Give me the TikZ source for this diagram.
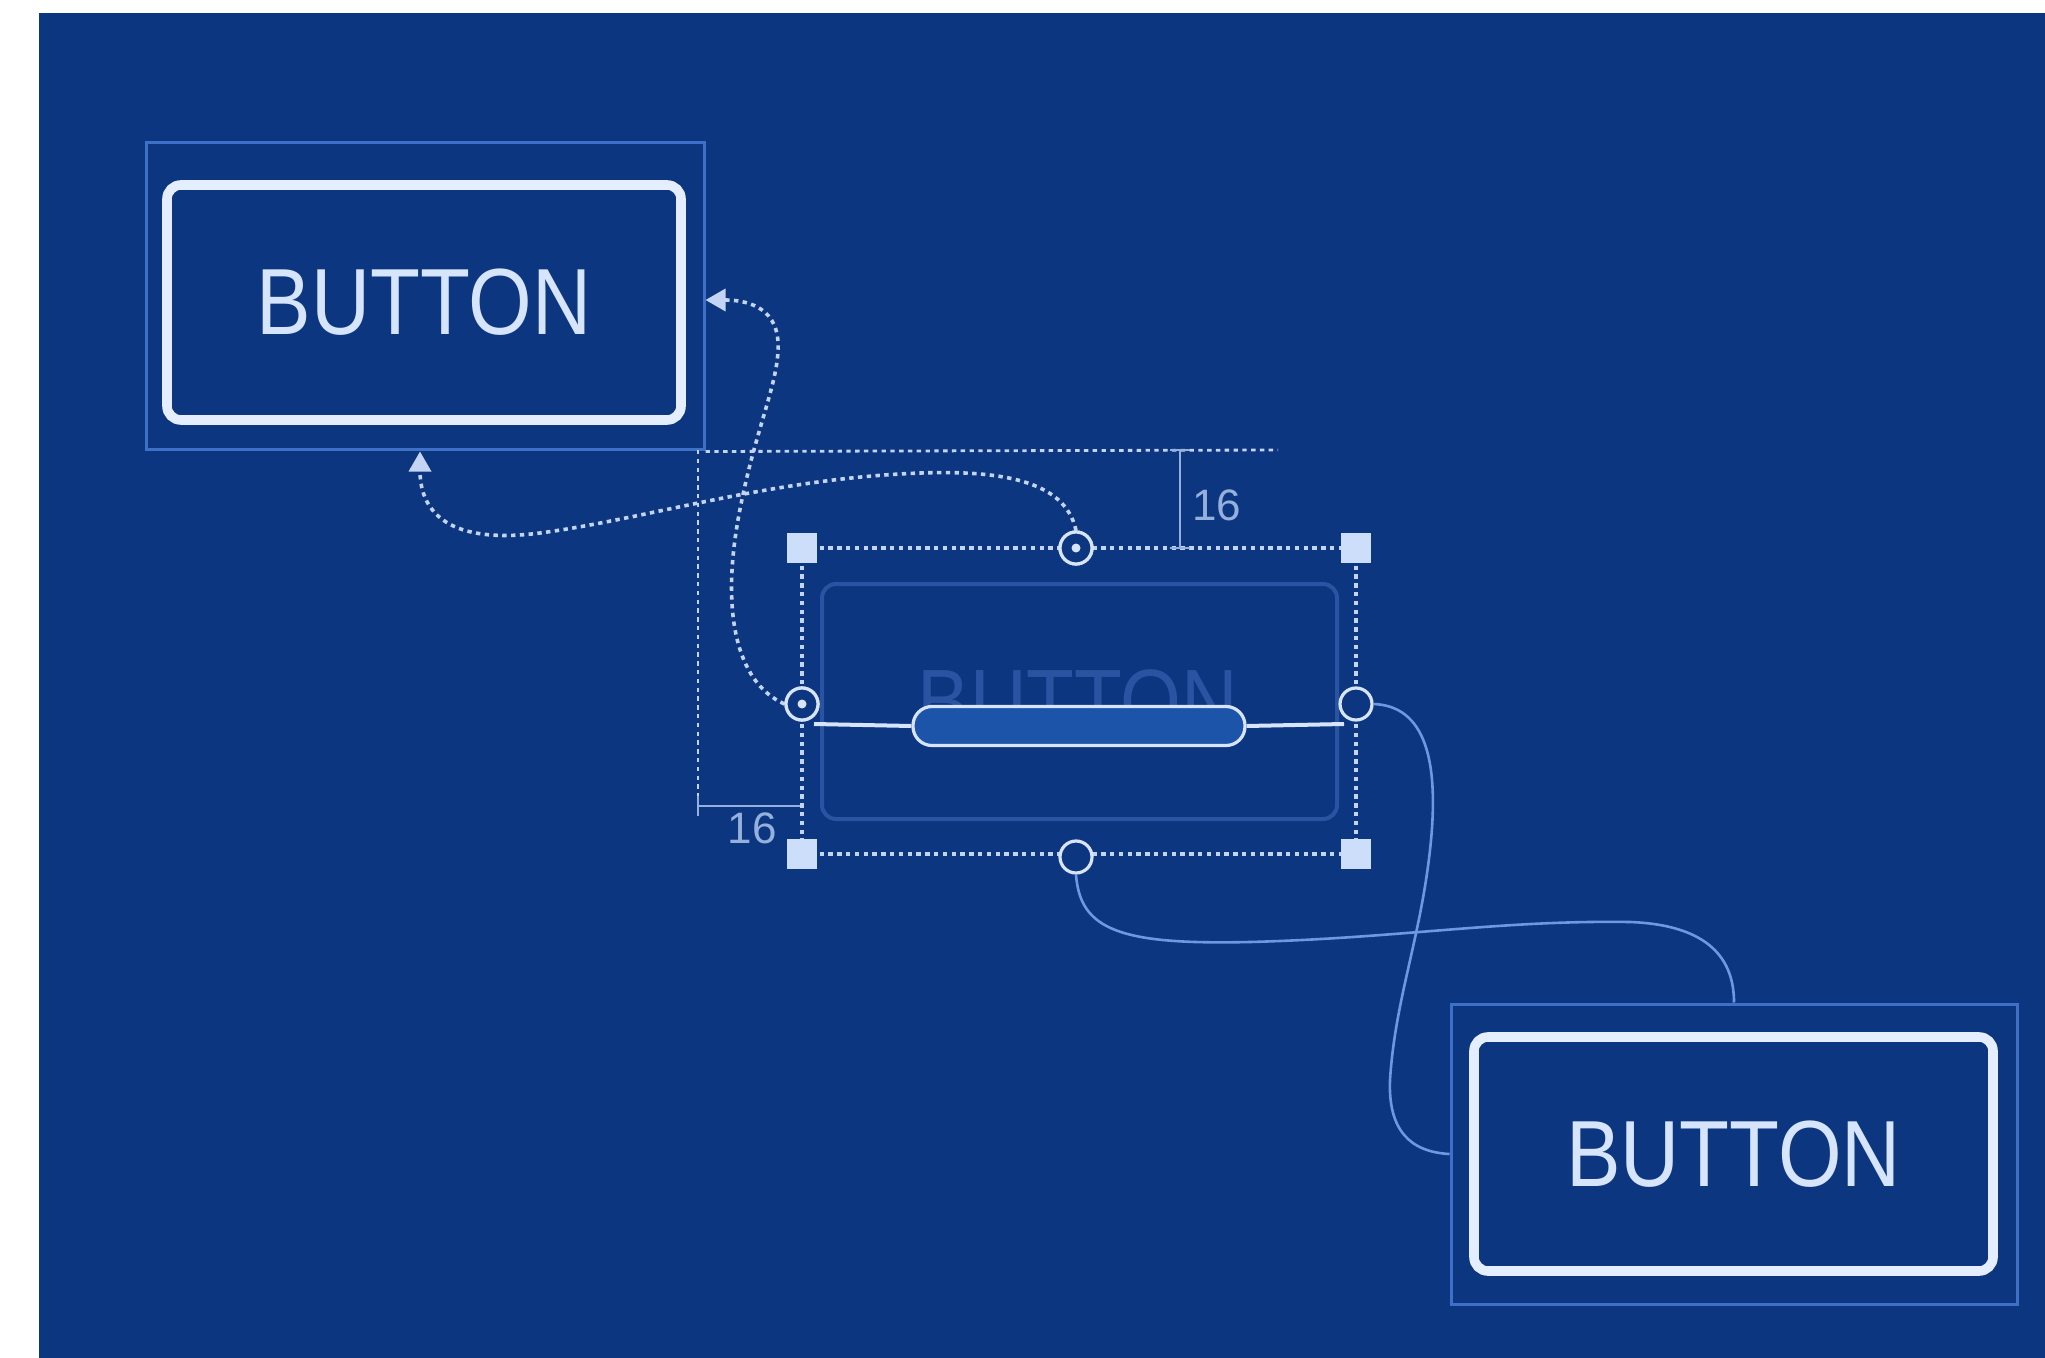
\documentclass[tikz,border=0pt]{standalone}
\usepackage{fontspec}
\setmainfont{Liberation Sans}
\newfontfamily\btnfont[FakeStretch=0.87]{Liberation Sans}
\usetikzlibrary{arrows.meta}
\definecolor{bg}{RGB}{12,54,128}
\definecolor{outerline}{RGB}{62,112,200}
\definecolor{btnwhite}{RGB}{228,238,255}
\definecolor{btntext}{RGB}{214,228,252}
\definecolor{handlec}{RGB}{205,222,250}
\definecolor{ringc}{RGB}{215,228,252}
\definecolor{guidec}{RGB}{195,212,245}
\definecolor{faintc}{RGB}{42,84,162}
\definecolor{linkc}{RGB}{112,152,226}
\definecolor{dimc}{RGB}{150,176,222}
\definecolor{pillc}{RGB}{28,84,170}
\begin{document}
\begin{tikzpicture}[x=0.5pt,y=-0.5pt,
  outerbox/.style={draw=outerline, line width=1.5pt, inner sep=0pt},
  btnbox/.style={draw=btnwhite, line width=4.8pt, rounded corners=7pt, inner sep=0pt,
     font=\btnfont\fontsize{47}{50}\selectfont, text=btntext},
  faintbox/.style={draw=faintc, line width=2pt, rounded corners=7pt, inner sep=0pt},
  handle/.style={fill=handlec, minimum size=15pt, inner sep=0pt},
  ring/.style={circle, draw=ringc, line width=1.6pt, fill=bg, minimum size=16pt, inner sep=0pt},
  dotc/.style={circle, fill=ringc, minimum size=4.5pt, inner sep=0pt},
  guide/.style={draw=guidec, line width=1.8pt, dash pattern=on 2.2pt off 2.2pt},
  flow/.style={guide, -{Triangle[length=10pt,width=11pt]}},
  link/.style={draw=linkc, line width=1.3pt},
  dimline/.style={draw=dimc, line width=1.2pt},
  dimlabel/.style={text=dimc, font=\fontsize{22}{24}\selectfont, inner sep=1pt},
  pill/.style={draw=ringc, line width=1.6pt, fill=pillc, rounded corners=9.5pt,
     minimum width=166pt, minimum height=19.5pt, inner sep=0pt}
]
\fill[white] (0,0) rectangle (2045,1358);
\fill[bg] (39,13) rectangle (2045,1358);
\useasboundingbox (0,0) rectangle (2045,1358);

% top-left button
\node[outerbox, minimum width=279pt, minimum height=153.5pt] (outA) at (425,296.5) {};
\node[btnbox, minimum width=257pt, minimum height=117.5pt] (btnA) at (424,302.5) {BUTTON};

% bottom-right button
\node[outerbox, minimum width=283pt, minimum height=150pt] (outB) at (1734,1154) {};
\node[btnbox, minimum width=259.5pt, minimum height=117pt] (btnB) at (1733.5,1154) {BUTTON};

% faint middle button
\node[faintbox, minimum width=257.5pt, minimum height=117.5pt] (btnM) at (1079.5,701.5) {};
\node[text=faintc, font=\btnfont\fontsize{45}{50}\selectfont, inner sep=0pt] (txtM) at (1078,702) {BUTTON};

% handle coordinates
\coordinate (pTL) at (802,548);
\coordinate (pTR) at (1356,548);
\coordinate (pBL) at (802,854);
\coordinate (pBR) at (1356,854);

% dotted frame
\draw[guide] (pTL) -- (pTR);
\draw[guide] (pBL) -- (pBR);
\draw[guide] (pTL) -- (pBL);
\draw[guide] (pTR) -- (pBR);

% dimension guides
\coordinate (extR) at (1278,450);
\draw[guide, line width=1.4pt] (outA.south east) -- (extR);
\coordinate (dimT1) at (1180,450);
\coordinate (dimT2) at (1180,548);
\draw[dimline] (dimT1) -- (dimT2);
\draw[dimline] ([xshift=-5pt]dimT1) -- ([xshift=5pt]dimT1);
\draw[dimline] ([xshift=-5pt]dimT2) -- ([xshift=5pt]dimT2);
\node[dimlabel, anchor=west] (lblT) at (1190,505) {16};

\coordinate (dimL0) at (698,450);
\coordinate (dimL1) at (698,806);
\coordinate (dimL2) at (800,806);
\draw[guide, line width=1.4pt] (dimL0) -- (dimL1);
\draw[dimline] (dimL1) -- (dimL2);
\draw[dimline] ([yshift=5pt]dimL1) -- ([yshift=-5pt]dimL1);
\node[dimlabel] (lblL) at (752,828) {16};

% circles
\node[ring] (cT) at (1076,548) {};
\node[ring] (cB) at (1076,857) {};
\node[ring] (cL) at (802,704) {};
\node[ring] (cR) at (1356,704) {};

% flows (dotted with arrows)
\draw[flow] (cT.north) .. controls (1065,480) and (1000,468) .. (900,474)
   .. controls (760,482) and (640,520) .. (540,533)
   .. controls (440,546) and (420,505) .. (outA.south -| 420,0);
\draw[flow] (cL.west) .. controls (735,682) and (722,610) .. (738,520)
   .. controls (754,430) and (780,382) .. (778,342)
   .. controls (776,306) and (745,300) .. (outA.east |- 0,300);

% redraw rings on top of flows
\node[ring] at (cT) {};
\node[ring] at (cL) {};
\node[dotc] (dT) at (cT) {};
\node[dotc] (dL) at (cL) {};

% slider
\node[pill] (pl) at (1079,726) {};
\coordinate (sL) at (814,724);
\coordinate (sR) at (1344,724);
\draw[draw=ringc, line width=2pt] (sL) -- (pl.west);
\draw[draw=ringc, line width=2pt] (pl.east) -- (sR);

% handles
\foreach \p in {pTL,pTR,pBL,pBR} { \node[handle] at (\p) {}; }

% links (solid)
\draw[link] (cB.south) .. controls (1080,930) and (1120,945) .. (1250,942)
   .. controls (1400,938) and (1500,920) .. (1630,922)
   .. controls (1710,925) and (1734,960) .. (outB.north);
\draw[link] (cR.east) .. controls (1425,706) and (1440,760) .. (1430,850)
   .. controls (1420,940) and (1395,1000) .. (1390,1080)
   .. controls (1388,1130) and (1410,1152) .. (outB.west);
\end{tikzpicture}
\end{document}
